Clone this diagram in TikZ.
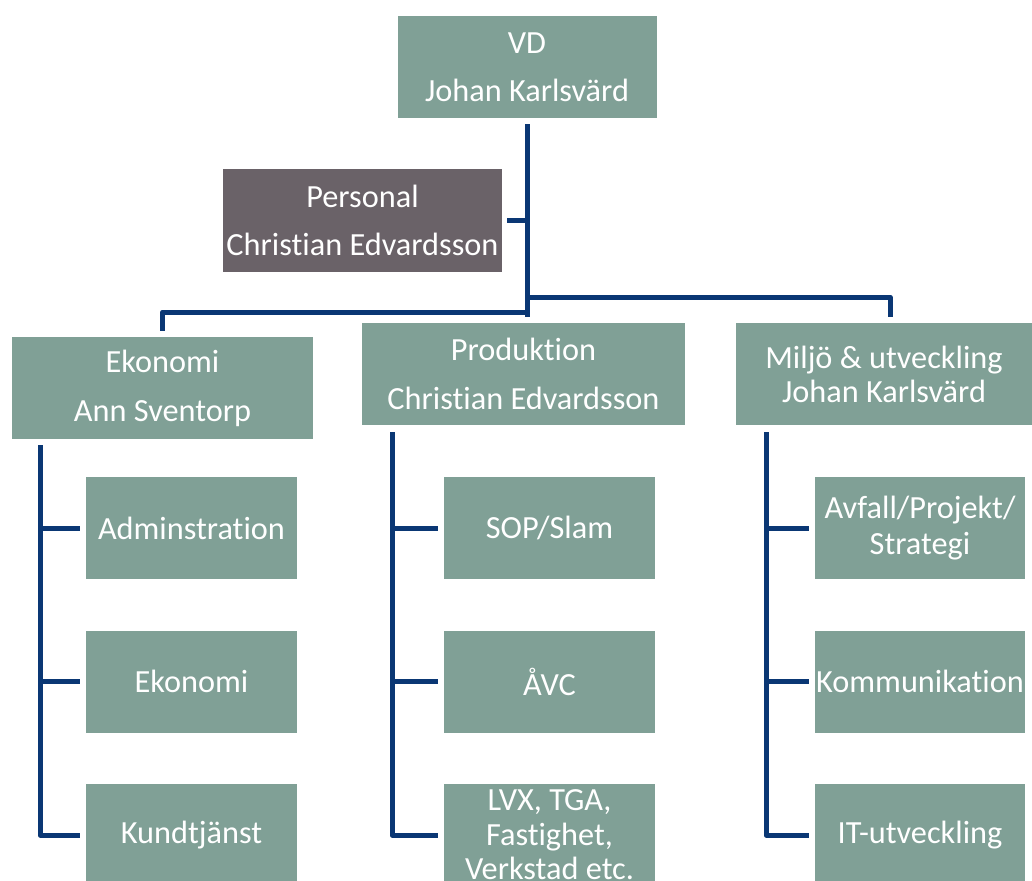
\documentclass[tikz,border=0pt]{standalone}
\usepackage{fontspec}
\setmainfont{Carlito}[Ligatures=NoCommon]
\definecolor{boxgreen}{RGB}{128,160,150}
\definecolor{boxgray}{RGB}{106,98,104}
\definecolor{navy}{RGB}{10,55,116}
\begin{document}
\begin{tikzpicture}[x=1pt,y=-1pt,
  box/.style={rectangle,fill=boxgreen,inner sep=0pt,text=white,align=center,
    font=\fontsize{32.3}{36}\selectfont},
  topbox/.style={box,minimum height=102pt},
  subbox/.style={box,minimum width=211pt,minimum height=102pt},
  conn/.style={draw=navy,line width=5pt,line join=round}]
\useasboundingbox (0,0) rectangle (1032,880);
\clip (0,0) rectangle (1032,880);
% top level
\node[topbox,minimum width=259pt] (vd) at (527,67) {VD\\[12pt]Johan Karlsvärd};
\node[topbox,fill=boxgray,minimum width=279pt,minimum height=103pt] (pers) at (362.5,220.5) {Personal\\[12pt]Christian Edvardsson};
% second level
\node[topbox,minimum width=301pt] (eko) at (162.5,388) {Ekonomi\\[13pt]Ann Sventorp};
\node[topbox,minimum width=323pt] (prod) at (523.5,374) {Produktion\\[13pt]Christian Edvardsson};
\node[topbox,minimum width=296pt] (milj) at (884,374) {Miljö \& utveckling\\[-2pt]Johan Karlsvärd};
% third level
\node[subbox] (adm) at (191.5,528) {Adminstration};
\node[subbox] (ekos) at (191.5,681.5) {Ekonomi};
\node[subbox] (kund) at (191.5,835) {Kundtjänst};
\node[subbox] (sop) at (549.5,528) {SOP/Slam};
\node[subbox] (avc) at (549.5,681.5) {ÅVC};
\node[subbox] (lvx) at (549.5,835) {LVX, TGA,\\[-1pt]Fastighet,\\[-2pt]Verkstad etc.};
\node[subbox,minimum width=210pt] (avf) at (920,528) {Avfall/Projekt/\\Strategi};
\node[subbox,minimum width=210pt] (komm) at (920,681.5) {Kommunikation};
\node[subbox,minimum width=210pt] (itu) at (920,835) {IT-utveckling};
% top connectors
\coordinate (hub) at (527,317);
\coordinate (hubL) at (527,312);
\coordinate (hubR) at (527,297);
\draw[conn] ([yshift=-6pt]vd.south) -- (hub);
\draw[conn] ([xshift=5pt]pers.east) -- (pers.east -| hub);
\draw[conn] (hubL) -| ([yshift=6pt]eko.north);
\draw[conn] (hubR) -| ([xshift=6pt,yshift=6pt]milj.north);
% left trunk
\coordinate (ekoT) at (40,445);
\draw[conn] (ekoT) |- ([xshift=-6pt]kund.west);
\draw[conn] (ekoT |- adm.west) -- ([xshift=-6pt]adm.west);
\draw[conn] (ekoT |- ekos.west) -- ([xshift=-6pt]ekos.west);
% middle trunk
\coordinate (prodT) at (392,432);
\draw[conn] (prodT) |- ([xshift=-6pt]lvx.west);
\draw[conn] (prodT |- sop.west) -- ([xshift=-6pt]sop.west);
\draw[conn] (prodT |- avc.west) -- ([xshift=-6pt]avc.west);
% right trunk
\coordinate (miljT) at (766,432);
\draw[conn] (miljT) |- ([xshift=-6pt]itu.west);
\draw[conn] (miljT |- avf.west) -- ([xshift=-6pt]avf.west);
\draw[conn] (miljT |- komm.west) -- ([xshift=-6pt]komm.west);
\end{tikzpicture}
\end{document}
